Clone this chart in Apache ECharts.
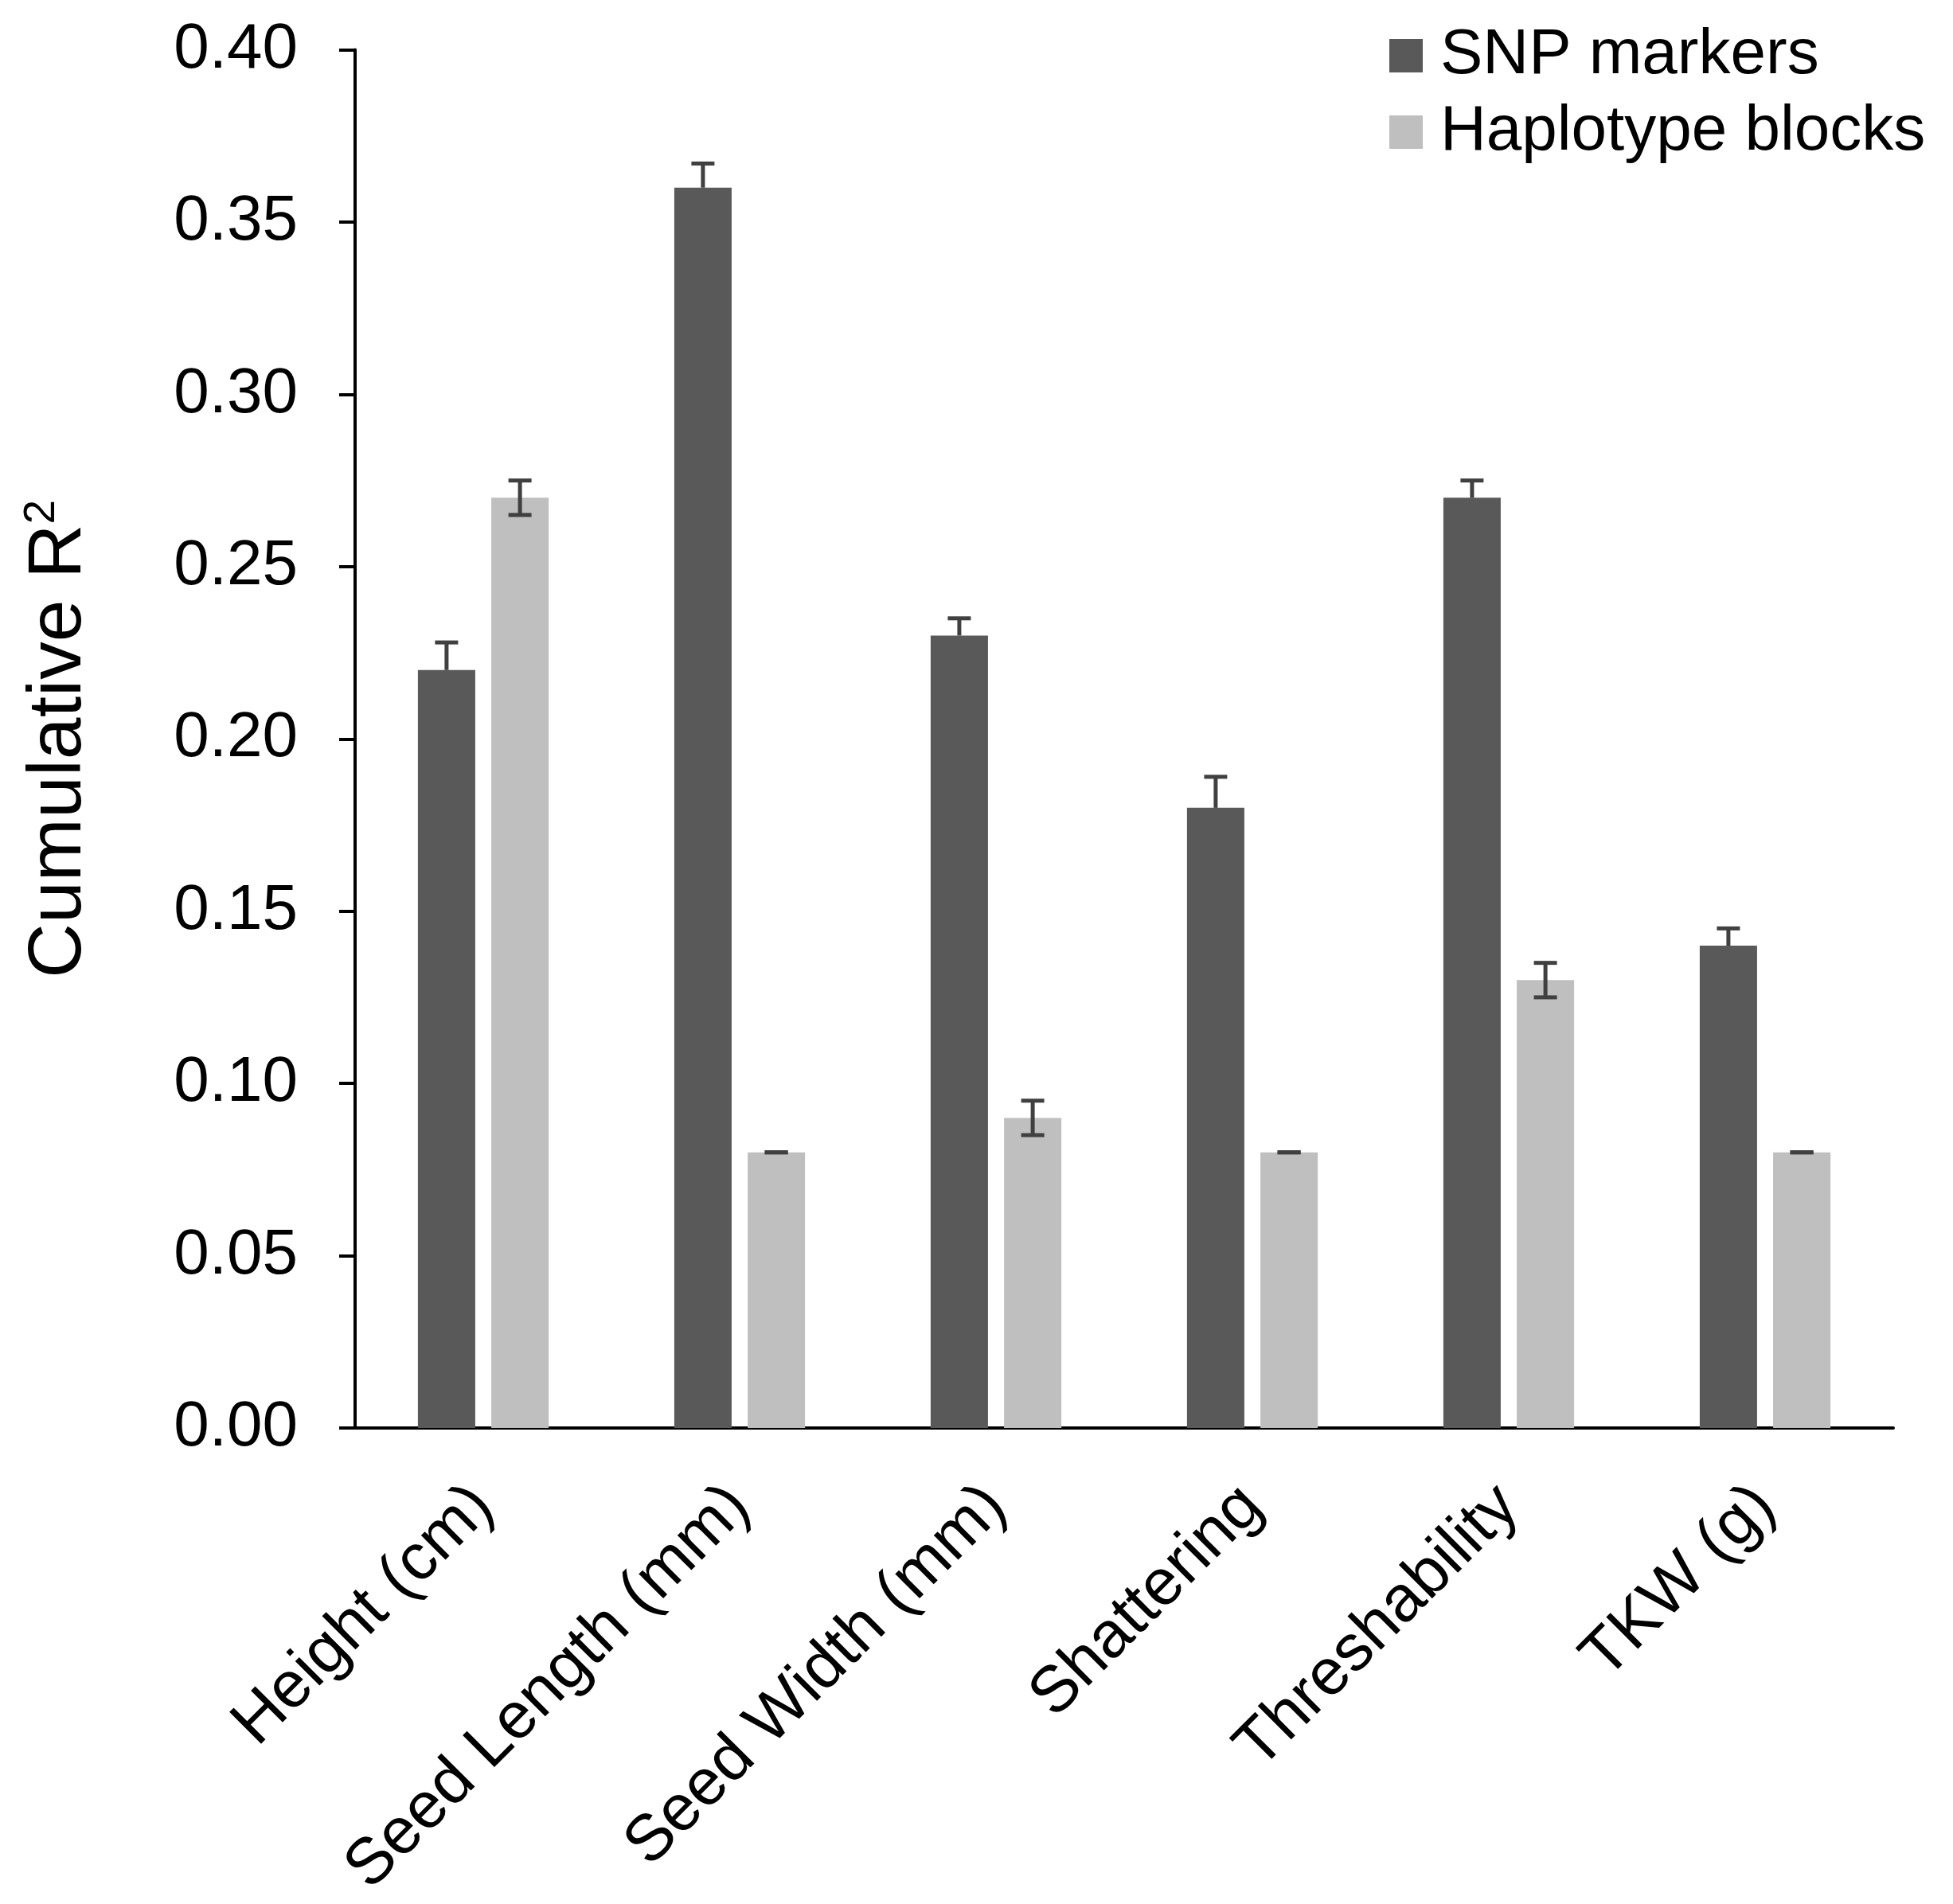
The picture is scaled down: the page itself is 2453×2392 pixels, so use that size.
<!DOCTYPE html>
<html><head><meta charset="utf-8">
<script src="https://cdn.jsdelivr.net/npm/echarts@6/dist/echarts.min.js"></script>
<style>html,body{margin:0;padding:0;background:#fff}#c{width:2453px;height:2392px}</style>
</head><body><div id="c"></div>
<script>
const categories = ['Height (cm)', 'Seed Length (mm)', 'Seed Width (mm)', 'Shattering', 'Threshability', 'TKW (g)'];
const seriesNames = ['SNP markers', 'Haplotype blocks'];
const snpValues = [0.22, 0.36, 0.23, 0.18, 0.27, 0.14];
const snpErrors = [0.008, 0.007, 0.005, 0.009, 0.005, 0.005];
const hapValues = [0.27, 0.08, 0.09, 0.08, 0.13, 0.08];
const hapErrors = [0.005, 0, 0.005, 0, 0.005, 0];
const yMin = 0, yMax = 0.40, yStep = 0.05;

const FONT = "'Liberation Sans', Arial, sans-serif";
const CAT_GAP = 0.49, BAR_GAP = 0.28;
const DARK = '#595959', LIGHT = '#bfbfbf', ERR = '#404040';

function errRender(plusOnly, side) {
  return function (params, api) {
    const i = api.value(0), v = api.value(1), e = api.value(2);
    const W = api.size([1, 0])[0];
    const b = W * (1 - CAT_GAP) / (2 + BAR_GAP);
    const off = side * b * (1 + BAR_GAP) / 2;
    const c = api.coord([i, v]);
    const top = api.coord([i, v + e]);
    const bot = plusOnly ? c : api.coord([i, v - e]);
    const x = c[0] + off, hw = 14.5;
    const style = { stroke: ERR, lineWidth: 5 };
    const children = [
      { type: 'line', shape: { x1: x, y1: top[1], x2: x, y2: bot[1] }, style: style },
      { type: 'line', shape: { x1: x - hw, y1: top[1], x2: x + hw, y2: top[1] }, style: style }
    ];
    if (!plusOnly) children.push({ type: 'line', shape: { x1: x - hw, y1: bot[1], x2: x + hw, y2: bot[1] }, style: style });
    return { type: 'group', children: children };
  };
}

const chart = echarts.init(document.getElementById('c'));
chart.setOption({
  animation: false,
  backgroundColor: '#fff',
  textStyle: { fontFamily: FONT },
  grid: { left: 446, right: 75, top: 62.6, bottom: 598 },
  legend: {
    orient: 'vertical', left: 1740, top: 25, itemWidth: 42, itemHeight: 42, itemGap: 16,
    icon: 'rect', data: seriesNames,
    textStyle: { fontFamily: FONT, fontSize: 80, color: '#000', lineHeight: 80, padding: [0, 0, 0, 17] }
  },
  xAxis: {
    type: 'category', data: categories,
    axisLine: { lineStyle: { color: '#000', width: 4 } },
    axisTick: { show: false },
    axisLabel: { rotate: 45, fontSize: 82, color: '#000', fontFamily: FONT, margin: 86, interval: 0 }
  },
  yAxis: {
    type: 'value', min: yMin, max: yMax, interval: yStep,
    name: 'Cumulative R{sup|2}', nameLocation: 'middle', nameGap: 322, nameRotate: 90,
    nameTextStyle: { fontSize: 95, color: '#000', fontFamily: FONT,
      rich: { sup: { fontSize: 55, color: '#000', fontFamily: FONT, verticalAlign: 'top', padding: [0, 0, 44, 0] } } },
    splitLine: { show: false },
    axisLine: { show: true, lineStyle: { color: '#000', width: 4 } },
    axisTick: { show: true, inside: false, length: 20, lineStyle: { color: '#000', width: 4 } },
    axisLabel: { fontSize: 80, color: '#000', fontFamily: FONT, margin: 72, formatter: v => v.toFixed(2) }
  },
  series: [
    { name: seriesNames[0], type: 'bar', data: snpValues, barCategoryGap: (CAT_GAP * 100) + '%', barGap: (BAR_GAP * 100) + '%',
      itemStyle: { color: DARK } },
    { name: seriesNames[1], type: 'bar', data: hapValues, barCategoryGap: (CAT_GAP * 100) + '%', barGap: (BAR_GAP * 100) + '%',
      itemStyle: { color: LIGHT } },
    { type: 'custom', renderItem: errRender(true, -1), data: snpValues.map((v, i) => [i, v, snpErrors[i]]),
      encode: { x: 0, y: 1 }, z: 5, silent: true },
    { type: 'custom', renderItem: errRender(false, 1), data: hapValues.map((v, i) => [i, v, hapErrors[i]]),
      encode: { x: 0, y: 1 }, z: 5, silent: true }
  ]
});
</script></body></html>
